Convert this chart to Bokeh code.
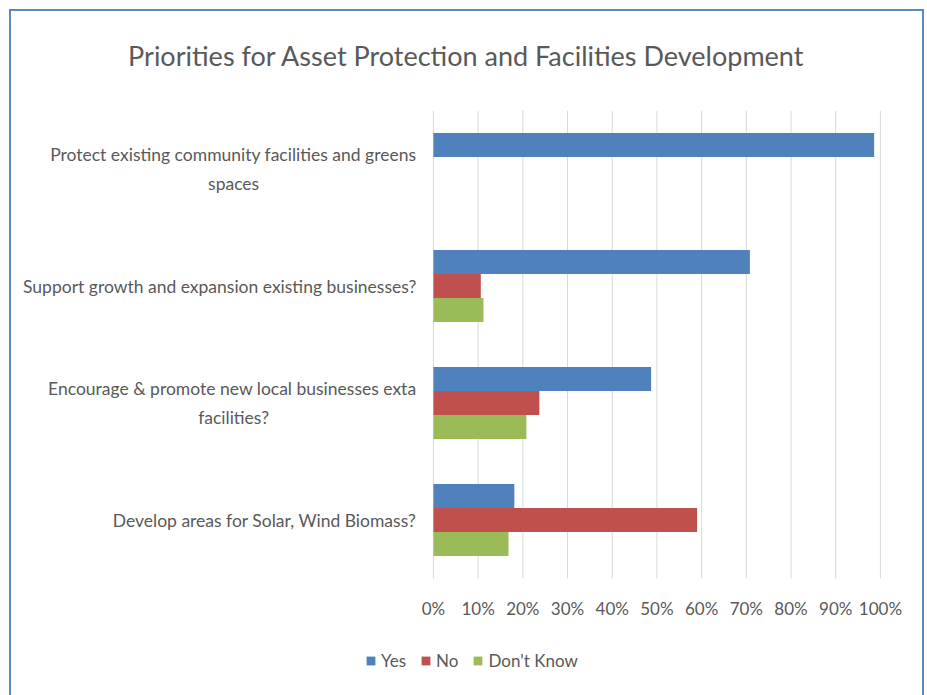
from bokeh.plotting import figure
from bokeh.models import (ColumnDataSource, Range1d, Legend, LegendItem,
                          FixedTicker, PrintfTickFormatter)
from bokeh.core.properties import value
from bokeh.transform import dodge
from bokeh.embed import file_html
from bokeh.resources import INLINE

# ---- data ----
categories = [
    "Protect existing community facilities and greens\nspaces",
    "Support growth and expansion existing businesses?",
    "Encourage & promote new local businesses exta\nfacilities?",
    "Develop areas for Solar, Wind Biomass?",
]
series = ["Yes", "No", "Don't Know"]
yes = [98.6, 70.8, 48.7, 18.1]
no = [0.0, 10.6, 23.7, 59.0]
dont_know = [0.0, 11.2, 20.8, 16.8]
x_ticks = [0, 10, 20, 30, 40, 50, 60, 70, 80, 90, 100]
title_text = "Priorities for Asset Protection and Facilities Development"

# ---- style ----
FONT = "Lato"
TEXT = "#595959"
GRID = "#D9D9D9"
COLORS = ["#4F81BD", "#C0504D", "#9BBB59"]
FRAME = "#5A8AC6"
LABEL_RIGHT = -3.8      # right edge of category labels (x data units)
LINE1_WIDTH = 81.8      # approx. width of a wrapped label's first line (x data units)
LINE_GAP = 0.124        # half the distance between wrapped lines (y data units)

n = len(categories)
ypos = [n - 1 - i for i in range(n)]          # first category on top
y_low, y_high = -0.5, n - 0.5                 # extent of the bar area
source = ColumnDataSource(dict(cat=categories, y=ypos, yes=yes, no=no, dk=dont_know))

# label lines: single lines / first lines right-aligned, wrapped second lines centred
r_text, r_y, c_text, c_x, c_y = [], [], [], [], []
for cat, y in zip(categories, ypos):
    lines = cat.split("\n")
    if len(lines) == 1:
        r_text.append(lines[0]); r_y.append(y)
    else:
        r_text.append(lines[0]); r_y.append(y + LINE_GAP)
        c_text.append(lines[1]); c_y.append(y - LINE_GAP)
        c_x.append(LABEL_RIGHT - LINE1_WIDTH / 2)

p = figure(
    width=915, height=701,
    y_range=Range1d(y_low - 1.0, y_high),
    x_range=Range1d(-93.5, 108.3),
    output_backend="svg", toolbar_location=None,
    min_border_left=6, min_border_right=7,
    min_border_top=116, min_border_bottom=0,
)
# outer chart frame (top, left, right) drawn as inset shadows behind the transparent canvas border
p.styles = {
    "margin-left": "9px", "margin-top": "-6px", "background-color": "white",
    "box-shadow": (f"inset 0 15px 0 0 #ffffff, inset 0 17px 0 0 {FRAME}, "
                   f"inset 2px 0 0 0 {FRAME}, inset -2px 0 0 0 {FRAME}"),
}
p.outline_line_color = None
p.background_fill_color = "white"
p.border_fill_alpha = 0

p.title.text = title_text
p.title.align = "center"
p.title.text_font = FONT
p.title.text_font_size = "27px"
p.title.text_font_style = "normal"
p.title.text_color = TEXT
p.title.standoff = 78

# vertical gridlines limited to the bar area
p.segment(x0=x_ticks, x1=x_ticks, y0=y_low, y1=y_high, line_color=GRID, line_width=1)

bw = 0.205
cols = ["yes", "no", "dk"]
offsets = [bw, 0.0, -bw]
renderers = []
for col, off, color in zip(cols, offsets, COLORS):
    r = p.hbar(y=dodge("y", off), left=0, right=col,
               height=bw, source=source, fill_color=color, line_color=None)
    renderers.append(r)

# category labels (left of the 0% line)
lab_style = dict(text_baseline="middle", text_font=value(FONT),
                 text_font_size="17.5px", text_color=TEXT)
p.text(x=LABEL_RIGHT, y="y", text="t",
       source=ColumnDataSource(dict(t=r_text, y=r_y)),
       text_align="right", **lab_style)
p.text(x="x", y="y", text="t",
       source=ColumnDataSource(dict(t=c_text, x=c_x, y=c_y)),
       text_align="center", **lab_style)

# axes
p.yaxis.visible = False
p.xaxis.fixed_location = y_low
p.xaxis.ticker = FixedTicker(ticks=x_ticks)
p.xaxis.formatter = PrintfTickFormatter(format="%d%%")
p.xaxis.axis_line_color = None
p.xaxis.major_tick_line_color = None
p.xaxis.minor_tick_line_color = None
p.xaxis.major_tick_out = 0
p.xaxis.major_label_standoff = 19
p.xaxis.major_label_text_font = FONT
p.xaxis.major_label_text_font_size = "17px"
p.xaxis.major_label_text_color = TEXT

p.xgrid.grid_line_color = None
p.ygrid.grid_line_color = None

legend = Legend(
    items=[LegendItem(label=s, renderers=[r]) for s, r in zip(series, renderers)],
    orientation="horizontal", location=(350, 24),
    border_line_color=None, background_fill_alpha=0,
    glyph_width=11, glyph_height=11, label_standoff=5, spacing=14,
    padding=0, margin=0,
    label_text_font=FONT, label_text_font_size="17px", label_text_color=TEXT,
)
p.add_layout(legend)

open("out.html", "w").write(file_html(p, INLINE))
